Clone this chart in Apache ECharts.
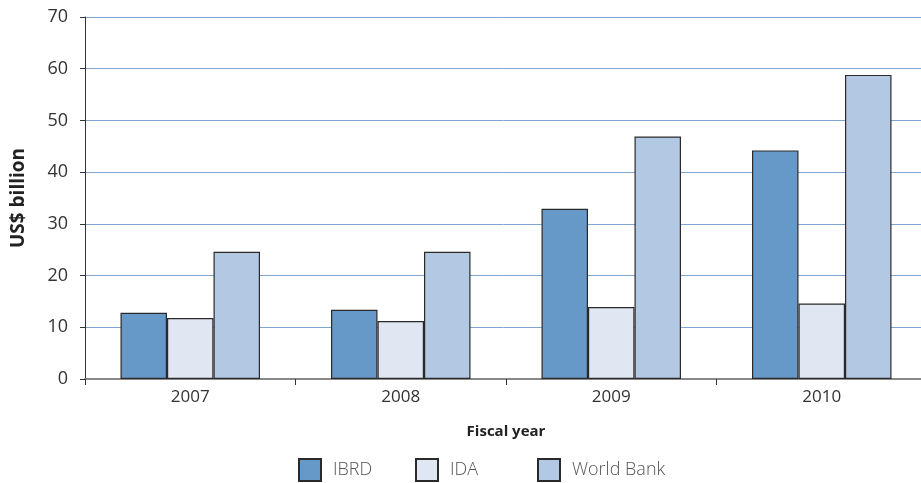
<!DOCTYPE html>
<html><head><meta charset="utf-8">
<script src="https://cdn.jsdelivr.net/npm/echarts@6/dist/echarts.min.js"></script>
<style>html,body{margin:0;padding:0;background:#fff}#c{width:921px;height:483px}</style>
</head><body><div id="c"></div>
<script>
const categories = ['2007', '2008', '2009', '2010'];
const ibrd = [12.8, 13.4, 32.9, 44.2];
const ida = [11.8, 11.2, 13.9, 14.6];
const worldBank = [24.6, 24.6, 46.9, 58.8];
const yTicks = [0, 10, 20, 30, 40, 50, 60, 70];
const seriesNames = ['IBRD', 'IDA', 'World Bank'];

const font = '"Open Sans", "Noto Sans", sans-serif';
const chart = echarts.init(document.getElementById('c'), null, {renderer: 'canvas'});
const border = {borderColor: '#2a2a2a', borderWidth: 1.2};
const legendLeft = [298, 415, 537];
const legends = seriesNames.map((n, i) => ({
  top: 458, left: legendLeft[i], padding: 0, itemWidth: 22, itemHeight: 22, icon: 'rect',
  textStyle: {fontFamily: font, fontSize: 18, color: '#555', fontWeight: 300, padding: [0, 0, 0, 7]},
  data: [n]
}));
chart.setOption({
  animation: false,
  textStyle: {fontFamily: font},
  grid: {left: 85, width: 842, top: 17, height: 362, containLabel: false, outerBoundsMode: 'none'},
  legend: legends,
  xAxis: {
    type: 'category', data: categories,
    name: 'Fiscal year', nameLocation: 'middle', nameGap: 45,
    nameTextStyle: {fontFamily: font, fontSize: 15, fontWeight: 'bold', color: '#222'},
    axisLine: {lineStyle: {color: '#888', width: 2}},
    axisTick: {show: true, alignWithLabel: false, length: 6, lineStyle: {color: '#333'}},
    axisLabel: {fontFamily: font, fontSize: 17, color: '#333', margin: 10}
  },
  yAxis: {
    type: 'value', min: 0, max: 70, interval: 10,
    name: 'US$ billion', nameLocation: 'middle', nameGap: 57, nameRotate: 90,
    nameTextStyle: {fontFamily: font, fontSize: 19, fontWeight: 'bold', color: '#222'},
    axisLine: {show: true, lineStyle: {color: '#333', width: 1}},
    axisTick: {show: true, length: 5, inside: false, lineStyle: {color: '#333'}},
    axisLabel: {fontFamily: font, fontSize: 18, color: '#333', margin: 17,
      formatter: v => yTicks.includes(v) ? String(v) : ''},
    splitLine: {lineStyle: {color: '#7DA6D4', width: 1}}
  },
  series: [
    {name: seriesNames[0], type: 'bar', data: ibrd, barWidth: 46.5, barGap: '0%',
     itemStyle: Object.assign({color: '#6699C8'}, border)},
    {name: seriesNames[1], type: 'bar', data: ida, barWidth: 46.5, barGap: '0%',
     itemStyle: Object.assign({color: '#E0E6F2'}, border)},
    {name: seriesNames[2], type: 'bar', data: worldBank, barWidth: 46.5, barGap: '0%',
     itemStyle: Object.assign({color: '#B3C8E3'}, border)}
  ]
});
</script></body></html>
